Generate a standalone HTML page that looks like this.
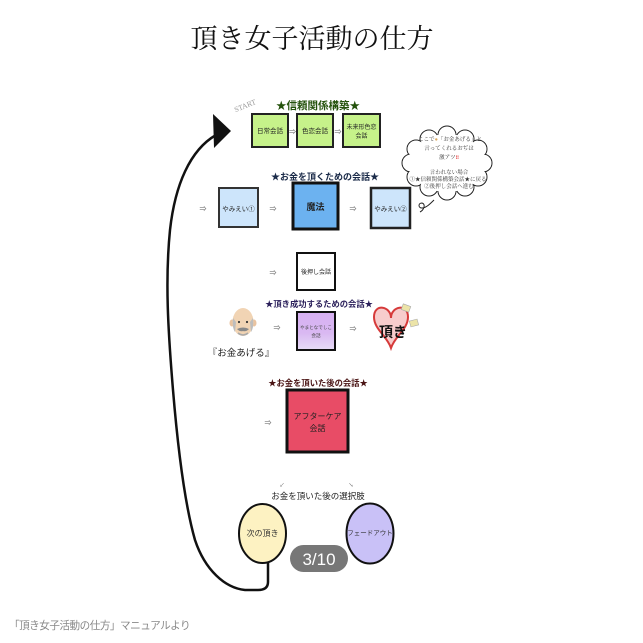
<!DOCTYPE html>
<html><head><meta charset="utf-8">
<style>
html,body{margin:0;padding:0;background:#fff;}
svg{display:block;}
.s{font-family:"Liberation Sans","Noto Sans CJK JP",sans-serif;}
.m{font-family:"Liberation Serif","Noto Serif CJK JP",serif;}
</style></head>
<body>
<svg width="643" height="643" viewBox="0 0 643 643" xmlns="http://www.w3.org/2000/svg">
<rect width="643" height="643" fill="#fff"/>
<!-- Title -->
<text x="312" y="48" text-anchor="middle" class="m" font-size="27" fill="#111">頂き女子活動の仕方</text>

<!-- START -->
<text x="246" y="108" text-anchor="middle" class="m" font-size="7.5" fill="#999" transform="rotate(-22 246 108)">START</text>

<!-- Section 1 -->
<text x="318" y="109" text-anchor="middle" class="s" font-size="10.5" font-weight="bold" fill="#24520c">★信頼関係構築★</text>
<rect x="252" y="114" width="36" height="33" fill="#c6f28a" stroke="#222" stroke-width="2"/>
<rect x="297" y="114" width="36" height="33" fill="#c6f28a" stroke="#222" stroke-width="2"/>
<rect x="343" y="114" width="37" height="33" fill="#c6f28a" stroke="#222" stroke-width="2"/>
<g class="s" font-size="6.5" fill="#222" text-anchor="middle">
<text x="270" y="133">日常会話</text>
<text x="315" y="133">色恋会話</text>
<text x="361.5" y="129" font-size="6">未来形色恋</text>
<text x="361.5" y="138" font-size="6">会話</text>
</g>
<g class="s" font-size="7" fill="#555" text-anchor="middle">
<text x="292.5" y="134">⇒</text>
<text x="338" y="134">⇒</text>
</g>

<!-- Cloud -->
<g stroke="#222" stroke-width="1" fill="#fff">
<circle cx="483" cy="163" r="9"/><circle cx="478" cy="149" r="9"/><circle cx="465" cy="139" r="9"/>
<circle cx="447" cy="135" r="9"/><circle cx="429" cy="139" r="9"/><circle cx="416" cy="149" r="9"/>
<circle cx="411" cy="163" r="9"/><circle cx="416" cy="177" r="9"/><circle cx="429" cy="187" r="9"/>
<circle cx="447" cy="191" r="9"/><circle cx="465" cy="187" r="9"/><circle cx="478" cy="177" r="9"/>
</g>
<g fill="#fff">
<circle cx="483" cy="163" r="8.3"/><circle cx="478" cy="149" r="8.3"/><circle cx="465" cy="139" r="8.3"/>
<circle cx="447" cy="135" r="8.3"/><circle cx="429" cy="139" r="8.3"/><circle cx="416" cy="149" r="8.3"/>
<circle cx="411" cy="163" r="8.3"/><circle cx="416" cy="177" r="8.3"/><circle cx="429" cy="187" r="8.3"/>
<circle cx="447" cy="191" r="8.3"/><circle cx="465" cy="187" r="8.3"/><circle cx="478" cy="177" r="8.3"/>
<ellipse cx="447" cy="163" rx="37" ry="29"/>
</g>
<path d="M434,200 C430,204 426,208 422,208 C418,208 418,203 422,203 C426,204 424,210 420,212" fill="none" stroke="#222" stroke-width="1"/>
<g class="m" font-size="5.5" fill="#333" text-anchor="middle">
<text x="450" y="141">ここで<tspan fill="#d9a860">●</tspan>「お金あげる」と</text>
<text x="449" y="150">言ってくれるおぢは</text>
<text x="449" y="159">激アツ<tspan fill="#e02020" font-weight="bold">‼</tspan></text>
<text x="449" y="174">言われない場合</text>
<text x="448" y="181">①★信頼関係構築会話★に戻る</text>
<text x="449" y="188">②後押し会話へ進む</text>
</g>

<!-- Section 2 -->
<text x="325" y="180" text-anchor="middle" class="s" font-size="9" font-weight="bold" fill="#1a2a48">★お金を頂くための会話★</text>
<rect x="219" y="188" width="39" height="39" fill="#cde5fb" stroke="#333" stroke-width="2"/>
<rect x="293" y="183" width="45" height="46" fill="#6cb2f0" stroke="#111" stroke-width="3"/>
<rect x="371" y="188" width="39" height="40" fill="#cde5fb" stroke="#222" stroke-width="2.5"/>
<g class="s" fill="#222" text-anchor="middle">
<text x="238.5" y="211" font-size="6.5">やみえい①</text>
<text x="315.5" y="210" font-size="9" font-weight="bold" fill="#222">魔法</text>
<text x="390.5" y="211" font-size="6.5">やみえい②</text>
</g>
<g class="s" font-size="7" fill="#555" text-anchor="middle">
<text x="203" y="211">⇒</text>
<text x="273" y="211">⇒</text>
<text x="353" y="211">⇒</text>
<text x="273" y="275">⇒</text>
<text x="277" y="330">⇒</text>
<text x="353" y="331">⇒</text>
<text x="268" y="425">⇒</text>
</g>
<rect x="297" y="253" width="38" height="37" fill="#fff" stroke="#111" stroke-width="2"/>
<text x="316" y="274" text-anchor="middle" class="s" font-size="6" fill="#222">後押し会話</text>

<!-- Section 3 -->
<text x="319" y="307" text-anchor="middle" class="s" font-size="8.3" font-weight="bold" fill="#2a1f5a">★頂き成功するための会話★</text>
<defs>
<linearGradient id="pg" x1="0" y1="0" x2="0" y2="1">
<stop offset="0" stop-color="#d7b0f2"/><stop offset="0.55" stop-color="#d9b8f2"/><stop offset="1" stop-color="#e6dcf6"/>
</linearGradient>
</defs>
<rect x="297" y="312" width="38" height="38" fill="url(#pg)" stroke="#111" stroke-width="2"/>
<text x="316" y="329" text-anchor="middle" class="s" font-size="4.6" fill="#444">やまとなでしこ</text>
<text x="316" y="337" text-anchor="middle" class="s" font-size="4.6" fill="#444">会話</text>

<!-- old man -->
<ellipse cx="232" cy="323" rx="2.5" ry="3.5" fill="#e9c3a0"/>
<ellipse cx="254" cy="323" rx="2.5" ry="3.5" fill="#e9c3a0"/>
<ellipse cx="243" cy="322" rx="10.5" ry="14" fill="#f1d4b4"/>
<path d="M233,318 Q232,328 235,332 L236,322 Z" fill="#bdbdbd"/>
<path d="M253,318 Q254,328 251,332 L250,322 Z" fill="#bdbdbd"/>
<circle cx="239" cy="322" r="1.1" fill="#333"/>
<circle cx="247" cy="322" r="1.1" fill="#333"/>
<path d="M237,329 Q243,326 249,329 Q246,332 243,331 Q240,332 237,329 Z" fill="#888"/>
<path d="M238,333 Q243,337 248,333" fill="none" stroke="#aaa" stroke-width="1.5"/>
<text x="241" y="356" text-anchor="middle" class="s" font-size="9.5" fill="#222">『お金あげる』</text>

<!-- heart -->
<path d="M391,318 C391,306 374,303 374,317 C374,329 387,336 391,348 C395,336 408,329 408,317 C408,303 391,306 391,318 Z" fill="#f7cccc" stroke="#d63a3a" stroke-width="2"/>
<rect x="402" y="305" width="8" height="6" fill="#ece4a8" stroke="#aaa" stroke-width="0.6" transform="rotate(20 406 308)"/>
<rect x="410" y="320" width="8" height="6" fill="#ece4a8" stroke="#aaa" stroke-width="0.6" transform="rotate(-15 414 323)"/>
<text x="393" y="337" text-anchor="middle" class="s" font-size="14" font-weight="bold" fill="#111">頂き</text>

<!-- Section 4 -->
<text x="318" y="386" text-anchor="middle" class="s" font-size="8.3" font-weight="bold" fill="#4a1414">★お金を頂いた後の会話★</text>
<rect x="287" y="390" width="61" height="62" fill="#e84c66" stroke="#111" stroke-width="3"/>
<text x="317.5" y="419" text-anchor="middle" class="s" font-size="8" fill="#222">アフターケア</text>
<text x="317.5" y="431" text-anchor="middle" class="s" font-size="8" fill="#222">会話</text>

<!-- Section 5 -->
<text x="282" y="487" text-anchor="middle" class="s" font-size="5" fill="#666">↙</text>
<text x="351" y="487" text-anchor="middle" class="s" font-size="5" fill="#666">↘</text>
<text x="318" y="499" text-anchor="middle" class="s" font-size="8.5" fill="#222">お金を頂いた後の選択肢</text>
<ellipse cx="262.5" cy="533.5" rx="23.5" ry="29.5" fill="#fdf2c2" stroke="#111" stroke-width="2"/>
<text x="262.5" y="536" text-anchor="middle" class="s" font-size="8" fill="#333">次の頂き</text>
<ellipse cx="370" cy="533.5" rx="23.5" ry="30" fill="#c9c1f7" stroke="#111" stroke-width="2"/>
<text x="370" y="535" text-anchor="middle" class="s" font-size="6.5" fill="#333">フェードアウト</text>

<!-- loop curve -->
<path d="M268,562 L268,582 Q268,590 258,590 L245,590 C225,588 205,570 195,540 C185,505 178,450 173,390 C168,330 165,280 170,230 C175,185 190,150 216,135" fill="none" stroke="#111" stroke-width="2.5"/>
<polygon points="213,114 231,131 214,148" fill="#111"/>

<!-- pager pill -->
<rect x="290" y="545" width="58" height="27" rx="13.5" fill="#777"/>
<text x="319" y="565" text-anchor="middle" font-family="Liberation Sans, sans-serif" font-size="17" fill="#fff">3/10</text>

<!-- caption -->
<text x="9" y="629" class="s" font-size="10.6" letter-spacing="-0.5" fill="#888">「頂き女子活動の仕方」マニュアルより</text>
</svg>
</body></html>
